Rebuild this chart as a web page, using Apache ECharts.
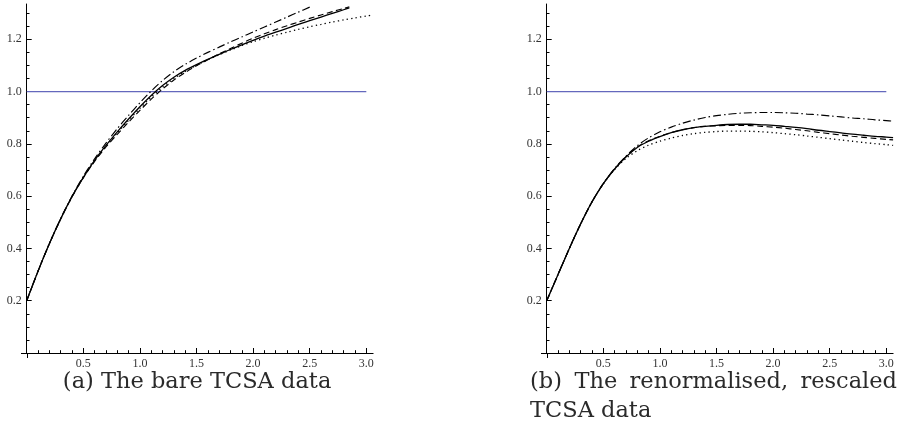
<!DOCTYPE html>
<html>
<head>
<meta charset="utf-8">
<script src="https://cdn.jsdelivr.net/npm/echarts@6/dist/echarts.min.js"></script>
<style>
  html, body { margin: 0; padding: 0; background: #fff; }
  #chart { width: 906px; height: 440px; }
</style>
</head>
<body>
<div id="chart"></div>
<script>
// ---- sample abscissae ----
const xSteps = [0, 0.1, 0.2, 0.3, 0.4, 0.5, 0.6, 0.7, 0.8, 0.9, 1.0,
                1.1, 1.2, 1.3, 1.4, 1.5, 1.6, 1.7, 1.8, 1.9, 2.0,
                2.1, 2.2, 2.3, 2.4, 2.5, 2.6, 2.7, 2.8, 2.9, 3.0];

// ---- panel (a): bare TCSA data ----
const xSolidA   = xSteps.slice(0, 29).concat([2.85]);
const solidA    = [0.200, 0.313, 0.418, 0.513, 0.598, 0.672, 0.737, 0.794, 0.846, 0.895, 0.942,
                   0.985, 1.023, 1.055, 1.081, 1.103, 1.123, 1.142, 1.161, 1.179, 1.196,
                   1.212, 1.227, 1.242, 1.257, 1.271, 1.285, 1.299, 1.313, 1.320];
const xDashedA  = xSteps.slice(0, 29).concat([2.85]);
const dashedA   = [0.200, 0.313, 0.418, 0.513, 0.597, 0.670, 0.733, 0.788, 0.836, 0.883, 0.928,
                   0.971, 1.010, 1.044, 1.073, 1.099, 1.122, 1.144, 1.165, 1.185, 1.204,
                   1.221, 1.237, 1.252, 1.266, 1.280, 1.293, 1.306, 1.318, 1.324];
const xDashDotA = xSteps.slice(0, 26);
const dashDotA  = [0.200, 0.313, 0.418, 0.514, 0.600, 0.676, 0.743, 0.803, 0.858, 0.909, 0.957,
                   1.002, 1.042, 1.076, 1.104, 1.128, 1.150, 1.170, 1.190, 1.209, 1.228,
                   1.247, 1.266, 1.285, 1.304, 1.323];
const xDottedA  = xSteps.concat([3.06]);
const dottedA   = [0.200, 0.313, 0.418, 0.513, 0.598, 0.671, 0.735, 0.791, 0.842, 0.890, 0.936,
                   0.979, 1.017, 1.050, 1.077, 1.101, 1.122, 1.141, 1.159, 1.176, 1.191,
                   1.204, 1.216, 1.227, 1.238, 1.248, 1.257, 1.266, 1.274, 1.282, 1.289, 1.293];

// ---- panel (b): renormalised, rescaled TCSA data ----
const xB        = xSteps.concat([3.06]);
const solidB    = [0.200, 0.300, 0.400, 0.494, 0.578, 0.648, 0.704, 0.750, 0.786, 0.810, 0.828,
                   0.843, 0.854, 0.862, 0.867, 0.871, 0.874, 0.875, 0.875, 0.873, 0.871,
                   0.867, 0.863, 0.858, 0.852, 0.847, 0.842, 0.837, 0.833, 0.829, 0.826, 0.824];
const dashedB   = [0.200, 0.300, 0.400, 0.494, 0.578, 0.648, 0.704, 0.751, 0.788, 0.812, 0.829,
                   0.843, 0.854, 0.862, 0.867, 0.869, 0.871, 0.871, 0.870, 0.867, 0.864,
                   0.860, 0.855, 0.850, 0.844, 0.839, 0.834, 0.829, 0.825, 0.821, 0.817, 0.815];
const dashDotB  = [0.200, 0.300, 0.400, 0.494, 0.578, 0.648, 0.706, 0.753, 0.793, 0.823, 0.846,
                   0.864, 0.879, 0.891, 0.901, 0.908, 0.913, 0.917, 0.919, 0.920, 0.920,
                   0.919, 0.917, 0.914, 0.911, 0.907, 0.903, 0.899, 0.896, 0.892, 0.889, 0.887];
const dottedB   = [0.200, 0.300, 0.400, 0.494, 0.578, 0.647, 0.702, 0.744, 0.774, 0.795, 0.810,
                   0.822, 0.832, 0.839, 0.844, 0.847, 0.849, 0.849, 0.848, 0.846, 0.843,
                   0.839, 0.835, 0.830, 0.825, 0.820, 0.815, 0.810, 0.805, 0.801, 0.797, 0.794];

// horizontal reference level
const refX = [0, 3.0];
const refY = [1.0, 1.0];

// ---- axis ticks / labels ----
const xTicks = [0.5, 1.0, 1.5, 2.0, 2.5, 3.0];
const yTicks = [0.2, 0.4, 0.6, 0.8, 1.0, 1.2];
const xRange = [0, 3.06];
const yRange = [0, 1.335];

const captionA = '(a) The bare TCSA data';
const captionB1 = ['(b)', 'The', 'renormalised,', 'rescaled'];
const captionB2 = 'TCSA data';

// ---- styling ----
const tickFont = '"Liberation Serif", "DejaVu Serif", serif';
const captionFont = 'DejaVu Serif';
const captionSize = 22.5;
const captionColor = '#2a2a2a';
const ink = '#000';
const refColor = '#6468bd';
const dashStyle = [6, 3.5];
const dashDotStyle = [8, 3, 1.5, 3];
const dotStyle = [1.3, 3.2];

const pairs = (xs, ys) => xs.map((x, i) => [x, ys[i]]);

function xAxisFor(g) {
  return {
    type: 'value', gridIndex: g, min: xRange[0], max: xRange[1], interval: 0.5,
    position: 'bottom',
    axisLine: { show: true, onZero: false, lineStyle: { color: ink, width: 1 } },
    axisTick: { show: true, inside: true, length: 5, customValues: xTicks,
                lineStyle: { color: ink, width: 1 } },
    minorTick: { show: true, splitNumber: 5, length: 2.8, lineStyle: { color: ink, width: 1 } },
    axisLabel: { customValues: xTicks, formatter: v => v.toFixed(1), margin: 5,
                 fontFamily: tickFont, fontSize: 12, color: '#333' },
    splitLine: { show: false }, minorSplitLine: { show: false }
  };
}
function yAxisFor(g) {
  return {
    type: 'value', gridIndex: g, min: yRange[0], max: yRange[1], interval: 0.2,
    position: 'left',
    axisLine: { show: true, onZero: false, lineStyle: { color: ink, width: 1 } },
    axisTick: { show: true, inside: true, length: 5, customValues: yTicks,
                lineStyle: { color: ink, width: 1 } },
    minorTick: { show: true, splitNumber: 4, length: 2.8, lineStyle: { color: ink, width: 1 } },
    axisLabel: { customValues: yTicks, formatter: v => v.toFixed(1), margin: 5,
                 fontFamily: tickFont, fontSize: 12, color: '#333' },
    splitLine: { show: false }, minorSplitLine: { show: false }
  };
}
function curve(g, xs, ys, type, width) {
  return {
    type: 'line', xAxisIndex: g, yAxisIndex: g, data: pairs(xs, ys),
    showSymbol: false, smooth: 0.3, silent: true, clip: true,
    lineStyle: { color: ink, width: width || 1.15, type: type }
  };
}
function refLine(g) {
  return {
    type: 'line', xAxisIndex: g, yAxisIndex: g, data: pairs(refX, refY),
    showSymbol: false, silent: true,
    lineStyle: { color: refColor, width: 1.2, type: 'solid' }
  };
}

const chart = echarts.init(document.getElementById('chart'), null, { renderer: 'canvas' });
chart.setOption({
  animation: false,
  backgroundColor: '#fff',
  grid: [
    { left: 26.7, top: 4, width: 346.4, height: 349, outerBoundsMode: 'none', containLabel: false },
    { left: 546.7, top: 4, width: 346.4, height: 349, outerBoundsMode: 'none', containLabel: false }
  ],
  xAxis: [xAxisFor(0), xAxisFor(1)],
  yAxis: [yAxisFor(0), yAxisFor(1)],
  series: [
    refLine(0),
    curve(0, xSolidA, solidA, 'solid', 1.3),
    curve(0, xDashedA, dashedA, dashStyle),
    curve(0, xDashDotA, dashDotA, dashDotStyle),
    curve(0, xDottedA, dottedA, dotStyle, 1.3),
    refLine(1),
    curve(1, xB, solidB, 'solid', 1.3),
    curve(1, xB, dashedB, dashStyle),
    curve(1, xB, dashDotB, dashDotStyle),
    curve(1, xB, dottedB, dotStyle, 1.3)
  ]
});

// Axis overhangs (the axes cross slightly past the origin) and captions.
const graphics = [];
[0, 1].forEach(g => {
  const finder = { xAxisIndex: g, yAxisIndex: g };
  const o = chart.convertToPixel(finder, [0, 0]);
  const ox = chart.convertToPixel(finder, [-0.05, 0]);
  const oy = chart.convertToPixel(finder, [0, -0.02]);
  graphics.push({ type: 'line', silent: true,
    shape: { x1: Math.round(ox[0]), y1: Math.round(o[1]) + 0.5, x2: Math.round(o[0]), y2: Math.round(o[1]) + 0.5 },
    style: { stroke: ink, lineWidth: 1 } });
  graphics.push({ type: 'line', silent: true,
    shape: { x1: Math.round(o[0]) + 0.5, y1: Math.round(o[1]), x2: Math.round(o[0]) + 0.5, y2: Math.round(oy[1]) },
    style: { stroke: ink, lineWidth: 1 } });
});

const capFont = captionSize + 'px "' + captionFont + '"';
const measure = document.createElement('canvas').getContext('2d');
measure.font = capFont;

// caption (a), centred under the left panel
const leftMid = (chart.convertToPixel({ xAxisIndex: 0, yAxisIndex: 0 }, [-0.05, 0])[0] +
                 chart.convertToPixel({ xAxisIndex: 0, yAxisIndex: 0 }, [3.06, 0])[0]) / 2;
graphics.push({ type: 'text', silent: true,
  style: { text: captionA, x: leftMid, y: 382, align: 'center', verticalAlign: 'middle',
           font: capFont, fill: captionColor } });

// caption (b), justified first line, ragged second line
const bLeft = 530, bRight = 897;
const widths = captionB1.map(w => measure.measureText(w).width);
const gap = (bRight - bLeft - widths.reduce((a, b) => a + b, 0)) / (captionB1.length - 1);
let cx = bLeft;
captionB1.forEach((w, i) => {
  graphics.push({ type: 'text', silent: true,
    style: { text: w, x: cx, y: 382, align: 'left', verticalAlign: 'middle',
             font: capFont, fill: captionColor } });
  cx += widths[i] + gap;
});
graphics.push({ type: 'text', silent: true,
  style: { text: captionB2, x: bLeft, y: 411, align: 'left', verticalAlign: 'middle',
           font: capFont, fill: captionColor } });

chart.setOption({ graphic: graphics });
</script>
</body>
</html>
